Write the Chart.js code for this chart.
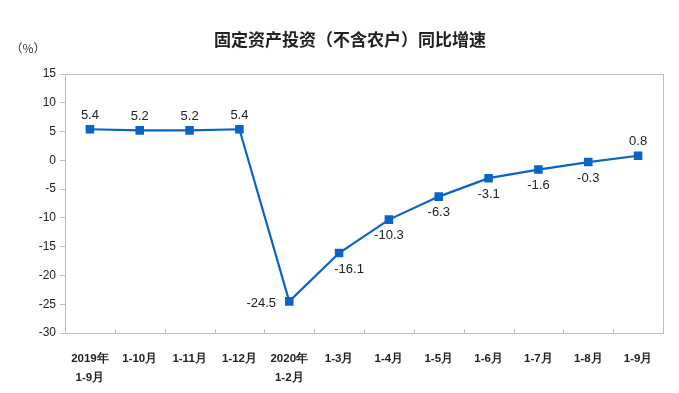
<!DOCTYPE html>
<html><head><meta charset="utf-8">
<script src="https://cdn.jsdelivr.net/npm/chart.js@4/dist/chart.umd.min.js"></script>
<style>html,body{margin:0;padding:0;background:#fff}#wrap{width:679px;height:393px}</style>
</head><body><div id="wrap"><canvas id="c" width="679" height="393"></canvas></div>
<script>
const categories = [["2019年","1-9月"],"1-10月","1-11月","1-12月",["2020年","1-2月"],"1-3月","1-4月","1-5月","1-6月","1-7月","1-8月","1-9月"];
const growth = [5.4,5.2,5.2,5.4,-24.5,-16.1,-10.3,-6.3,-3.1,-1.6,-0.3,0.8];
const yTicks = [15,10,5,0,-5,-10,-15,-20,-25,-30];
const titleText = "固定资产投资（不含农户）同比增速";
const unitText = "（%）";

const labelOffsets = [[0,-14],[0,-14],[0,-14],[0,-14],[-28,2],[10,16],[0,16],[0,16],[0,16],[0,16],[0,16],[0,-14]];

const deco = {
  id:'deco',
  beforeDatasetsDraw(chart){
    const {ctx, chartArea:a, scales:{x}} = chart;
    ctx.save();
    ctx.strokeStyle='#bfbfbf'; ctx.lineWidth=1;
    ctx.strokeRect(Math.round(a.left)+0.5, Math.round(a.top)+0.5, Math.round(a.right-a.left), Math.round(a.bottom-a.top));
    ctx.beginPath();
    for(let i=1;i<categories.length;i++){
      const px = Math.round((x.getPixelForValue(i-1)+x.getPixelForValue(i))/2)+0.5;
      ctx.moveTo(px, a.bottom); ctx.lineTo(px, a.bottom-4);
    }
    ctx.stroke();
    ctx.restore();
  },
  afterDraw(chart){
    const {ctx} = chart;
    ctx.save();
    ctx.fillStyle='#222';
    ctx.font='bold 17px "Noto Sans CJK SC"';
    ctx.textAlign='center'; ctx.textBaseline='middle';
    ctx.fillText(titleText, 350, 40);
    ctx.font='12px "Noto Sans CJK SC"';
    ctx.fillStyle='#333';
    ctx.fillText(unitText, 28, 48);
    const meta = chart.getDatasetMeta(0);
    ctx.font='13px "Liberation Sans"';
    ctx.fillStyle='#222';
    meta.data.forEach((pt,i)=>{
      const [dx,dy]=labelOffsets[i];
      ctx.fillText(String(growth[i]), pt.x+dx, pt.y+dy);
    });
    ctx.restore();
  }
};

new Chart(document.getElementById('c'),{
  type:'line',
  data:{labels:categories,datasets:[{data:growth,borderColor:'#0a64c8',backgroundColor:'#0a64c8',borderWidth:2.2,pointStyle:'rect',pointRadius:4.5,pointHoverRadius:4.5,tension:0}]},
  options:{
    responsive:false,animation:false,
    layout:{padding:{top:74,right:16,left:0,bottom:0}},
    plugins:{legend:{display:false},tooltip:{enabled:false}},
    scales:{
      x:{offset:true,grid:{display:false},border:{display:false},
        ticks:{color:'#222',font:{family:'Liberation Sans',size:11.5,weight:'bold',lineHeight:1.7},maxRotation:0,autoSkip:false,padding:8},
        afterFit(s){s.height=60;}},
      y:{min:-30,max:15,grid:{drawOnChartArea:false,tickLength:5,color:'#bfbfbf'},border:{display:false},
        afterBuildTicks(s){s.ticks=yTicks.map(v=>({value:v}));},
        ticks:{color:'#222',font:{family:'Liberation Sans',size:12},padding:4},
        afterFit(s){s.width=65;}}
    }
  },
  plugins:[deco]
});
</script></body></html>
